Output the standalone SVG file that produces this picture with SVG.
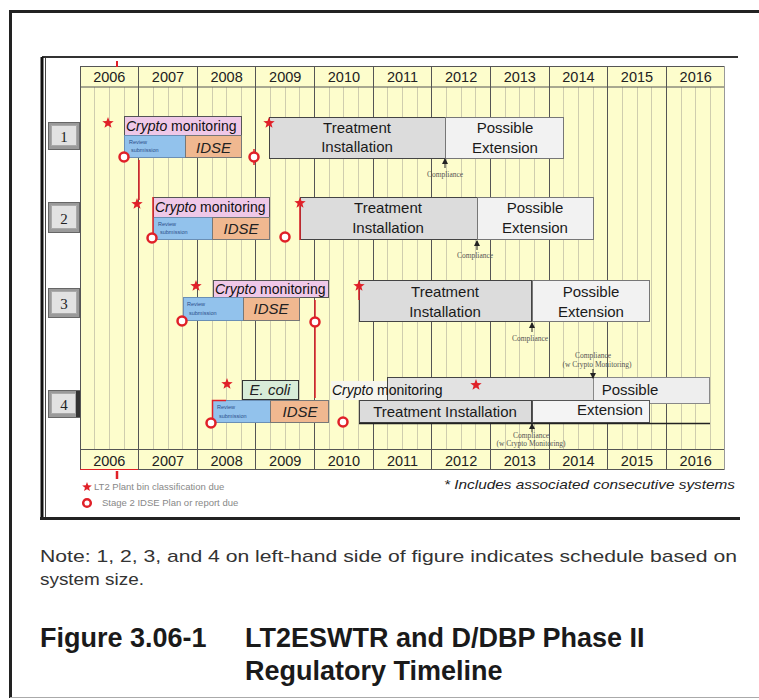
<svg xmlns="http://www.w3.org/2000/svg" width="759" height="700" viewBox="0 0 759 700">
<defs>
<style>
.yr{font-family:"Liberation Sans",Arial,sans-serif;font-size:14.5px;fill:#222;text-anchor:middle}
.crypto{font-family:"Liberation Sans",Arial,sans-serif;font-size:14px;fill:#111}
.big{font-family:"Liberation Sans",Arial,sans-serif;font-size:15px;fill:#1a1a1a;text-anchor:middle}
.idse{font-family:"Liberation Sans",Arial,sans-serif;font-size:15px;font-style:italic;fill:#222;text-anchor:middle}
.tiny{font-family:"Liberation Sans",Arial,sans-serif;font-size:5.5px;fill:#2b4f8a}
.comp{font-family:"Liberation Serif","Times New Roman",serif;font-size:7.5px;fill:#555;text-anchor:middle}
.num{font-family:"Liberation Serif","Times New Roman",serif;font-size:15px;fill:#222;text-anchor:middle}
.pink{fill:#efc8e8;stroke:#555;stroke-width:1}
.blue{fill:#92c2ec;stroke:#6a8fb5;stroke-width:1}
.orange{fill:#f0b890;stroke:#777;stroke-width:1}
.treat{fill:#dcdcdc;stroke:#444;stroke-width:1}
.poss{fill:#f2f2f2;stroke:#777;stroke-width:1}
.ring{fill:#fff;stroke:#e02028;stroke-width:2.5}
.red{stroke:#e02028;stroke-width:1.5;fill:none}
.arr{stroke:#222;stroke-width:1;fill:none}
.legend{font-family:"Liberation Sans",Arial,sans-serif;font-size:9.5px;fill:#888}
</style>
<path id="star" d="M0,-6 L1.47,-2.02 L5.71,-1.85 L2.38,0.77 L3.53,4.85 L0,2.5 L-3.53,4.85 L-2.38,0.77 L-5.71,-1.85 L-1.47,-2.02 Z" fill="#e02028"/>
<marker id="ah" markerWidth="6" markerHeight="6" refX="5" refY="3" orient="auto" markerUnits="userSpaceOnUse">
<path d="M0,0 L6,3 L0,6 Z" fill="#222"/>
</marker>
</defs>
<rect x="0" y="0" width="759" height="700" fill="#fff"/>
<!-- outer frame -->
<g id="frame">
<line x1="9" y1="11.5" x2="759" y2="11.5" stroke="#222" stroke-width="3"/>
<line x1="10.5" y1="10" x2="10.5" y2="698" stroke="#222" stroke-width="3"/>
<line x1="10" y1="697.5" x2="759" y2="697.5" stroke="#aaa" stroke-width="1"/>
<line x1="42" y1="57" x2="738" y2="57" stroke="#333" stroke-width="2"/>
<line x1="42" y1="57" x2="42" y2="519" stroke="#111" stroke-width="3"/>
<line x1="45.5" y1="58" x2="45.5" y2="518" stroke="#444" stroke-width="1"/>
<line x1="40" y1="518.5" x2="740" y2="518.5" stroke="#222" stroke-width="3"/>
</g>
<!-- grid -->
<g id="grid">
<rect x="80" y="66" width="645" height="404" fill="#fdfdcc"/>
<path d="M94.5,87V449M109.5,87V449M124.5,87V449M153.5,87V449M168.5,87V449M182.5,87V449M212.5,87V449M226.5,87V449M241.5,87V449M270.5,87V449M285.5,87V449M299.5,87V449M329.5,87V449M343.5,87V449M358.5,87V449M387.5,87V449M402.5,87V449M417.5,87V449M446.5,87V449M461.5,87V449M475.5,87V449M505.5,87V449M519.5,87V449M534.5,87V449M563.5,87V449M578.5,87V449M593.5,87V449M622.5,87V449M637.5,87V449M651.5,87V449M681.5,87V449M695.5,87V449M710.5,87V449" stroke="#cfcdae" stroke-width="1"/>
<path d="M138.5,66V470M197.5,66V470M255.5,66V470M314.5,66V470M373.5,66V470M431.5,66V470M490.5,66V470M549.5,66V470M607.5,66V470M666.5,66V470" stroke="#555" stroke-width="1"/>
<rect x="80.5" y="66.5" width="644" height="20.5" fill="none" stroke="#555" stroke-width="1"/>
<rect x="80.5" y="449.5" width="644" height="20" fill="none" stroke="#555" stroke-width="1"/>
<line x1="80.5" y1="66" x2="80.5" y2="470" stroke="#555" stroke-width="1"/>
<line x1="724.5" y1="66" x2="724.5" y2="470" stroke="#999" stroke-width="1"/>
<g id="years-top">
<text class="yr" x="109.3" y="82">2006</text><text class="yr" x="168" y="82">2007</text><text class="yr" x="226.6" y="82">2008</text><text class="yr" x="285.2" y="82">2009</text><text class="yr" x="343.9" y="82">2010</text><text class="yr" x="402.5" y="82">2011</text><text class="yr" x="461.1" y="82">2012</text><text class="yr" x="519.8" y="82">2013</text><text class="yr" x="578.4" y="82">2014</text><text class="yr" x="637" y="82">2015</text><text class="yr" x="695.7" y="82">2016</text>
</g>
<g id="years-bottom">
<text class="yr" x="109.3" y="466">2006</text><text class="yr" x="168" y="466">2007</text><text class="yr" x="226.6" y="466">2008</text><text class="yr" x="285.2" y="466">2009</text><text class="yr" x="343.9" y="466">2010</text><text class="yr" x="402.5" y="466">2011</text><text class="yr" x="461.1" y="466">2012</text><text class="yr" x="519.8" y="466">2013</text><text class="yr" x="578.4" y="466">2014</text><text class="yr" x="637" y="466">2015</text><text class="yr" x="695.7" y="466">2016</text>
</g>
<line x1="117" y1="61" x2="117" y2="67" stroke="#e02028" stroke-width="2"/>
<line x1="80" y1="469.5" x2="138" y2="469.5" stroke="#e02028" stroke-width="1"/>
<line x1="117" y1="471" x2="117" y2="479" stroke="#e02028" stroke-width="2.5"/>
</g>
<!-- row labels -->
<g id="label1"><rect x="48.5" y="122.5" width="31" height="27" fill="#9a9a9a" stroke="#666"/><rect x="51.5" y="125.5" width="25" height="20" fill="#e2e2e2" stroke="#aaa"/><text class="num" x="64" y="142">1</text></g>
<g id="label2"><rect x="48.5" y="202.5" width="31" height="30" fill="#9a9a9a" stroke="#666"/><rect x="51.5" y="205.5" width="25" height="23" fill="#e2e2e2" stroke="#aaa"/><text class="num" x="64" y="224">2</text></g>
<g id="label3"><rect x="48.5" y="288.5" width="31" height="29" fill="#9a9a9a" stroke="#666"/><rect x="51.5" y="291.5" width="25" height="22" fill="#e2e2e2" stroke="#aaa"/><text class="num" x="64" y="309">3</text></g>
<g id="label4"><rect x="48.5" y="390.5" width="31" height="27" fill="#9a9a9a" stroke="#666"/><rect x="51.5" y="393.5" width="24" height="20" fill="#e2e2e2" stroke="#aaa"/><rect x="76" y="391" width="4" height="26" fill="#333"/><text class="num" x="64" y="410">4</text></g>
<!-- row 1 -->
<g id="row1">
<rect class="pink" x="124.5" y="116.5" width="117" height="19"/>
<text class="crypto" x="126" y="131"><tspan font-style="italic">Crypto</tspan> monitoring</text>
<rect class="blue" x="124.5" y="135.5" width="61" height="22"/>
<text class="tiny" x="129" y="144">Review</text><text class="tiny" x="131" y="152">submission</text>
<rect class="orange" x="185.5" y="135.5" width="56" height="22"/>
<text class="idse" x="213.5" y="153">IDSE</text>
<rect class="treat" x="269.5" y="117.5" width="176" height="41"/>
<text class="big" x="357" y="133">Treatment</text><text class="big" x="357" y="152">Installation</text>
<rect class="poss" x="445.5" y="117.5" width="118" height="41"/>
<text class="big" x="505" y="133">Possible</text><text class="big" x="505" y="153">Extension</text>
<text class="comp" x="445" y="177">Compliance</text>
<use href="#star" x="108" y="123"/>
<use href="#star" x="269" y="123"/>
</g>
<!-- row 2 -->
<g id="row2">
<rect class="pink" x="153.5" y="197.5" width="116" height="20"/>
<text class="crypto" x="155" y="212"><tspan font-style="italic">Crypto</tspan> monitoring</text>
<rect class="blue" x="153.5" y="217.5" width="59" height="22"/>
<text class="tiny" x="158" y="226">Review</text><text class="tiny" x="160" y="234">submission</text>
<rect class="orange" x="212.5" y="217.5" width="57" height="22"/>
<text class="idse" x="241" y="234">IDSE</text>
<rect class="treat" x="300.5" y="197.5" width="177" height="42"/>
<text class="big" x="388" y="213">Treatment</text><text class="big" x="388" y="233">Installation</text>
<rect class="poss" x="477.5" y="197.5" width="116" height="42"/>
<text class="big" x="535" y="213">Possible</text><text class="big" x="535" y="233">Extension</text>
<text class="comp" x="475" y="258">Compliance</text>
<use href="#star" x="137" y="204"/>
<use href="#star" x="300" y="203"/>
</g>
<!-- row 3 -->
<g id="row3">
<rect class="pink" x="213.5" y="280.5" width="115" height="17"/>
<text class="crypto" x="215" y="294"><tspan font-style="italic">Crypto</tspan> monitoring</text>
<rect class="blue" x="183.5" y="297.5" width="60" height="23"/>
<text class="tiny" x="187" y="306">Review</text><text class="tiny" x="189" y="315">submission</text>
<rect class="orange" x="243.5" y="297.5" width="56" height="23"/>
<text class="idse" x="271" y="314" fill="#555">IDSE</text>
<rect class="treat" x="359.5" y="280.5" width="172" height="41"/>
<text class="big" x="445" y="297">Treatment</text><text class="big" x="445" y="317">Installation</text>
<rect class="poss" x="532.5" y="280.5" width="117" height="41"/>
<text class="big" x="591" y="297">Possible</text><text class="big" x="591" y="317">Extension</text>
<text class="comp" x="530" y="341">Compliance</text>
<text class="comp" x="593" y="358">Compliance</text>
<text class="comp" x="597" y="367" font-size="6.5px">(w Crypto Monitoring)</text>
<use href="#star" x="196" y="286"/>
<use href="#star" x="359" y="286"/>
</g>
<!-- row 4 -->
<g id="row4">
<rect x="242.5" y="380.5" width="56" height="19" fill="#d8ecd8" stroke="#333"/>
<text class="idse" x="270" y="395">E. coli</text>
<rect class="blue" x="212.5" y="400.5" width="58" height="22"/>
<text class="tiny" x="217" y="409">Review</text><text class="tiny" x="219" y="418">submission</text>
<rect class="orange" x="270.5" y="400.5" width="58" height="22"/>
<text class="idse" x="300" y="417">IDSE</text>
<rect x="331" y="381" width="56" height="19" fill="#f6f6ee"/>
<rect x="387.5" y="377.5" width="206" height="23" fill="#e2e2e2" stroke="#444"/>
<rect x="593.5" y="377.5" width="116" height="26" fill="#eeeeee" stroke="#888"/>
<text class="crypto" x="332" y="395"><tspan font-style="italic">Crypto</tspan> monitoring</text>
<text class="big" x="630" y="395">Possible</text>
<rect class="treat" x="359.5" y="400.5" width="172" height="22"/>
<text class="big" x="445" y="417">Treatment Installation</text>
<rect x="532.5" y="400.5" width="117" height="22" fill="#f4f4f4" stroke="#555"/>
<text class="big" x="610" y="415">Extension</text>
<line x1="359" y1="423.5" x2="710" y2="423.5" stroke="#222" stroke-width="1.5"/>
<text class="comp" x="531" y="438">Compliance</text>
<text class="comp" x="531" y="446" font-size="6.5px">(w Crypto Monitoring)</text>
<use href="#star" x="227" y="384"/>
<use href="#star" x="476" y="385"/>
</g>
<!-- connectors -->
<g id="connectors">
<line class="red" x1="139" y1="160" x2="139" y2="200"/>
<line class="red" x1="254" y1="149" x2="254" y2="165"/>
<line class="red" x1="153" y1="197" x2="153" y2="237"/>
<line class="red" x1="300" y1="206" x2="300" y2="240"/>
<line class="red" x1="315" y1="300" x2="315" y2="398"/>
<line class="red" x1="359" y1="289" x2="359" y2="300"/>
<path class="red" d="M226,400.5 H212.5 V423"/>
<line class="arr" x1="445" y1="168" x2="445" y2="159" marker-end="url(#ah)"/>
<line class="arr" x1="477" y1="250" x2="477" y2="241" marker-end="url(#ah)"/>
<line class="arr" x1="532" y1="332" x2="532" y2="323" marker-end="url(#ah)"/>
<line class="arr" x1="593" y1="369" x2="593" y2="378" marker-end="url(#ah)"/>
<line class="arr" x1="532" y1="432" x2="532" y2="424" marker-end="url(#ah)"/>
<circle class="ring" cx="124" cy="157" r="4.5"/>
<circle class="ring" cx="254" cy="157" r="4.5"/>
<circle class="ring" cx="152" cy="238" r="4.5"/>
<circle class="ring" cx="285" cy="237" r="4.5"/>
<circle class="ring" cx="182" cy="321" r="4.5"/>
<circle class="ring" cx="315" cy="322" r="4.5"/>
<circle class="ring" cx="211" cy="423" r="4.5"/>
<circle class="ring" cx="343" cy="422" r="4.5"/>
</g>
<!-- legend -->
<g id="legend">
<use href="#star" x="87" y="487" transform="translate(87 487) scale(0.85) translate(-87 -487)"/>
<text class="legend" x="94" y="490">LT2 Plant bin classification due</text>
<circle class="ring" cx="87" cy="503" r="3.8"/>
<text class="legend" x="102" y="506">Stage 2 IDSE Plan or report due</text>
<text x="444" y="489" font-family="'Liberation Sans',Arial,sans-serif" font-size="13.5" font-style="italic" fill="#222" textLength="291" lengthAdjust="spacingAndGlyphs">* Includes associated consecutive systems</text>
</g>
<!-- note and title -->
<g id="caption">
<text x="40" y="562" font-family="'Liberation Sans',Arial,sans-serif" font-size="17" fill="#333" textLength="697" lengthAdjust="spacingAndGlyphs">Note:  1, 2, 3, and 4 on left-hand side of figure indicates schedule based on</text>
<text x="40" y="585" font-family="'Liberation Sans',Arial,sans-serif" font-size="17" fill="#333" textLength="104" lengthAdjust="spacingAndGlyphs">system size.</text>
<text x="40" y="647" font-family="'Liberation Sans',Arial,sans-serif" font-size="27" font-weight="bold" fill="#1a1a1a">Figure 3.06-1</text>
<text x="245" y="647" font-family="'Liberation Sans',Arial,sans-serif" font-size="27" font-weight="bold" fill="#1a1a1a">LT2ESWTR and D/DBP Phase II</text>
<text x="245" y="680" font-family="'Liberation Sans',Arial,sans-serif" font-size="27" font-weight="bold" fill="#1a1a1a">Regulatory Timeline</text>
</g>
</svg>
